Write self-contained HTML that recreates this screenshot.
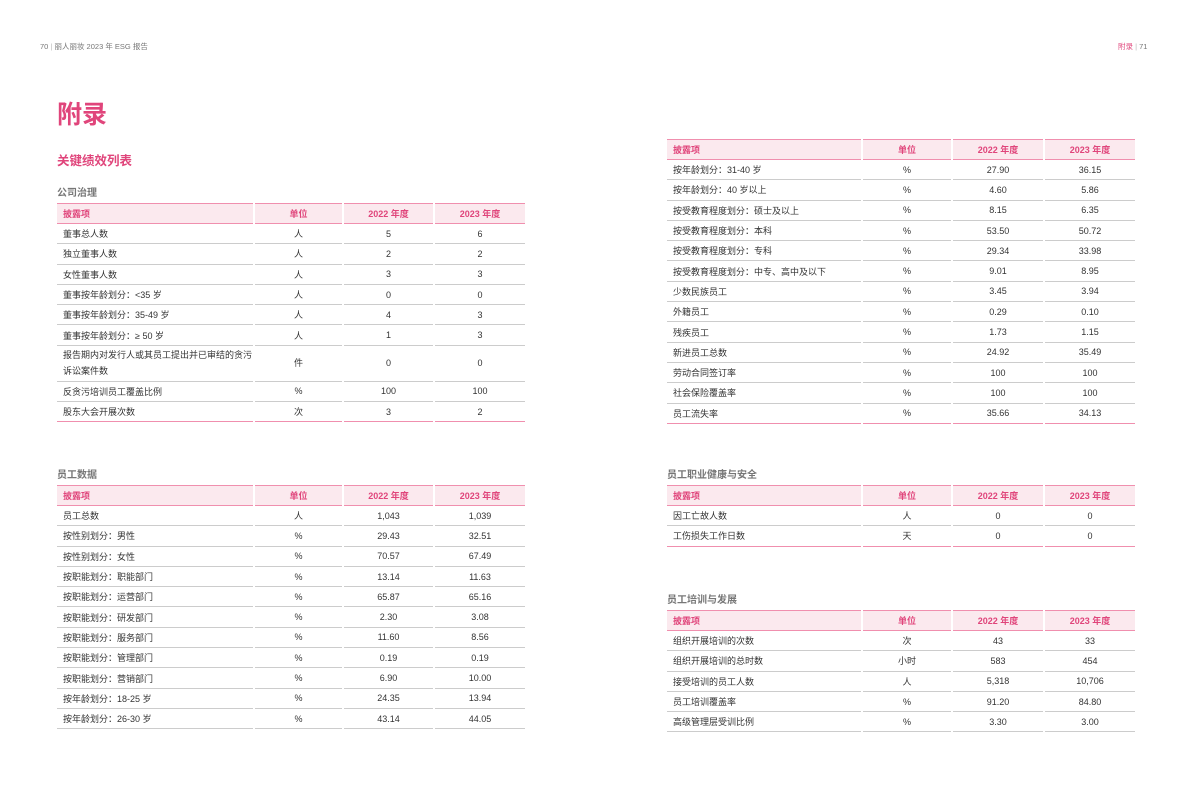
<!DOCTYPE html>
<html><head><meta charset="utf-8"><style>
*{margin:0;padding:0;box-sizing:border-box}
body{width:1192px;height:808px;background:#fff;position:relative;overflow:hidden;font-family:"Liberation Sans","Noto Sans CJK SC",sans-serif;color:#333}
.a{position:absolute;white-space:nowrap}
table{position:absolute;border-collapse:separate;border-spacing:2px 0;table-layout:fixed;font-size:9px}
td{border-bottom:1px solid #ccc;text-align:center;height:20.3px;padding:0;vertical-align:middle}
td:first-child{text-align:left;padding-left:6px}
tr.h td{background:#fbe9ee;color:#e0457b;font-weight:bold;border-top:1.5px solid #f08fae;border-bottom:1.5px solid #f08fae;height:21px}
tr.l td{border-bottom:1.5px solid #f08fae}
tr.t td{height:36px;line-height:16px}
.sec{font-size:10px;font-weight:bold;color:#777}
</style></head><body>
<div class="a" style="left:40px;top:41px;font-size:7.5px;color:#777">70 <span style="color:#bbb">|</span> 丽人丽妆 2023 年 ESG 报告</div>
<div class="a" style="left:1118px;top:41px;font-size:7.5px;color:#777"><span style="color:#e0457b">附录</span> <span style="color:#bbb">|</span> 71</div>
<div class="a" style="left:57px;top:95px;font-size:25px;font-weight:bold;color:#e0457b">附录</div>
<div class="a" style="left:57px;top:150px;font-size:12.5px;font-weight:bold;color:#e0457b">关键绩效列表</div>
<div class="a sec" style="left:57px;top:184px">公司治理</div>
<div class="a sec" style="left:57px;top:466px">员工数据</div>
<div class="a sec" style="left:667px;top:466px">员工职业健康与安全</div>
<div class="a sec" style="left:667px;top:591px">员工培训与发展</div>

<table style="left:55px;top:203px;width:472px">
<colgroup><col style="width:196px"><col style="width:87px"><col style="width:89px"><col style="width:90px"></colgroup>
<tr class="h"><td>披露项</td><td>单位</td><td>2022 年度</td><td>2023 年度</td></tr>
<tr><td>董事总人数</td><td>人</td><td>5</td><td>6</td></tr>
<tr><td>独立董事人数</td><td>人</td><td>2</td><td>2</td></tr>
<tr><td>女性董事人数</td><td>人</td><td>3</td><td>3</td></tr>
<tr><td>董事按年龄划分：&lt;35 岁</td><td>人</td><td>0</td><td>0</td></tr>
<tr><td>董事按年龄划分：35-49 岁</td><td>人</td><td>4</td><td>3</td></tr>
<tr><td>董事按年龄划分：≥ 50 岁</td><td>人</td><td>1</td><td>3</td></tr>
<tr class="t"><td style="white-space:normal">报告期内对发行人或其员工提出并已审结的贪污诉讼案件数</td><td>件</td><td>0</td><td>0</td></tr>
<tr><td>反贪污培训员工覆盖比例</td><td>%</td><td>100</td><td>100</td></tr>
<tr class="l"><td>股东大会开展次数</td><td>次</td><td>3</td><td>2</td></tr>
</table>

<table style="left:55px;top:485px;width:472px">
<colgroup><col style="width:196px"><col style="width:87px"><col style="width:89px"><col style="width:90px"></colgroup>
<tr class="h"><td>披露项</td><td>单位</td><td>2022 年度</td><td>2023 年度</td></tr>
<tr><td>员工总数</td><td>人</td><td>1,043</td><td>1,039</td></tr>
<tr><td>按性别划分：男性</td><td>%</td><td>29.43</td><td>32.51</td></tr>
<tr><td>按性别划分：女性</td><td>%</td><td>70.57</td><td>67.49</td></tr>
<tr><td>按职能划分：职能部门</td><td>%</td><td>13.14</td><td>11.63</td></tr>
<tr><td>按职能划分：运营部门</td><td>%</td><td>65.87</td><td>65.16</td></tr>
<tr><td>按职能划分：研发部门</td><td>%</td><td>2.30</td><td>3.08</td></tr>
<tr><td>按职能划分：服务部门</td><td>%</td><td>11.60</td><td>8.56</td></tr>
<tr><td>按职能划分：管理部门</td><td>%</td><td>0.19</td><td>0.19</td></tr>
<tr><td>按职能划分：营销部门</td><td>%</td><td>6.90</td><td>10.00</td></tr>
<tr><td>按年龄划分：18-25 岁</td><td>%</td><td>24.35</td><td>13.94</td></tr>
<tr><td>按年龄划分：26-30 岁</td><td>%</td><td>43.14</td><td>44.05</td></tr>
</table>

<table style="left:665px;top:139px;width:472px">
<colgroup><col style="width:194px"><col style="width:88px"><col style="width:90px"><col style="width:90px"></colgroup>
<tr class="h"><td>披露项</td><td>单位</td><td>2022 年度</td><td>2023 年度</td></tr>
<tr><td>按年龄划分：31-40 岁</td><td>%</td><td>27.90</td><td>36.15</td></tr>
<tr><td>按年龄划分：40 岁以上</td><td>%</td><td>4.60</td><td>5.86</td></tr>
<tr><td>按受教育程度划分：硕士及以上</td><td>%</td><td>8.15</td><td>6.35</td></tr>
<tr><td>按受教育程度划分：本科</td><td>%</td><td>53.50</td><td>50.72</td></tr>
<tr><td>按受教育程度划分：专科</td><td>%</td><td>29.34</td><td>33.98</td></tr>
<tr><td>按受教育程度划分：中专、高中及以下</td><td>%</td><td>9.01</td><td>8.95</td></tr>
<tr><td>少数民族员工</td><td>%</td><td>3.45</td><td>3.94</td></tr>
<tr><td>外籍员工</td><td>%</td><td>0.29</td><td>0.10</td></tr>
<tr><td>残疾员工</td><td>%</td><td>1.73</td><td>1.15</td></tr>
<tr><td>新进员工总数</td><td>%</td><td>24.92</td><td>35.49</td></tr>
<tr><td>劳动合同签订率</td><td>%</td><td>100</td><td>100</td></tr>
<tr><td>社会保险覆盖率</td><td>%</td><td>100</td><td>100</td></tr>
<tr class="l"><td>员工流失率</td><td>%</td><td>35.66</td><td>34.13</td></tr>
</table>

<table style="left:665px;top:485px;width:472px">
<colgroup><col style="width:194px"><col style="width:88px"><col style="width:90px"><col style="width:90px"></colgroup>
<tr class="h"><td>披露项</td><td>单位</td><td>2022 年度</td><td>2023 年度</td></tr>
<tr><td>因工亡故人数</td><td>人</td><td>0</td><td>0</td></tr>
<tr class="l"><td>工伤损失工作日数</td><td>天</td><td>0</td><td>0</td></tr>
</table>

<table style="left:665px;top:610px;width:472px">
<colgroup><col style="width:194px"><col style="width:88px"><col style="width:90px"><col style="width:90px"></colgroup>
<tr class="h"><td>披露项</td><td>单位</td><td>2022 年度</td><td>2023 年度</td></tr>
<tr><td>组织开展培训的次数</td><td>次</td><td>43</td><td>33</td></tr>
<tr><td>组织开展培训的总时数</td><td>小时</td><td>583</td><td>454</td></tr>
<tr><td>接受培训的员工人数</td><td>人</td><td>5,318</td><td>10,706</td></tr>
<tr><td>员工培训覆盖率</td><td>%</td><td>91.20</td><td>84.80</td></tr>
<tr><td>高级管理层受训比例</td><td>%</td><td>3.30</td><td>3.00</td></tr>
</table>
</body></html>
